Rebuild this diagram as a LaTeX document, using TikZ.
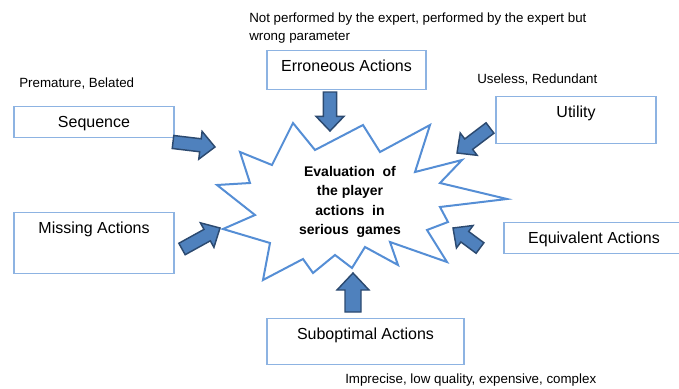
\documentclass[tikz,border=0pt]{standalone}
\usepackage{fontspec}
\setmainfont{Liberation Sans}
\usepackage{xcolor}
\usepackage{tikz}
\usetikzlibrary{calc}

\definecolor{boxblue}{RGB}{141,179,226}
\definecolor{starblue}{RGB}{85,142,213}
\definecolor{arrowfill}{RGB}{79,129,189}
\definecolor{arrowline}{RGB}{44,74,112}

\begin{document}
\begin{tikzpicture}[x=0.75pt,y=-0.75pt,
  catbox/.style={draw=boxblue,line width=0.9pt,inner sep=0pt,anchor=north,
    font=\fontsize{12}{14}\selectfont,text height=15.75pt},
  note/.style={anchor=west,inner sep=0pt,align=left,
    font=\fontsize{10}{13.5}\selectfont},
  starline/.style={draw=starblue,line width=1.5pt,line join=miter,fill=white},
  blockarrow/.style n args={3}{draw=arrowline,fill=arrowfill,line width=1.1pt,
    line join=miter,
    to path={let \p1=(\tikztostart), \p2=(\tikztotarget),
      \n1={atan2(\y2-\y1,\x2-\x1)} in
      -- ($(\p1)+(\n1-90:#1)$)
      -- ($(\p2)+(\n1+180:#3)+(\n1-90:#1)$)
      -- ($(\p2)+(\n1+180:#3)+(\n1-90:#2)$)
      -- (\p2)
      -- ($(\p2)+(\n1+180:#3)+(\n1+90:#2)$)
      -- ($(\p2)+(\n1+180:#3)+(\n1+90:#1)$)
      -- ($(\p1)+(\n1+90:#1)$) -- cycle}}]
%
\useasboundingbox (0,0) rectangle (679,389);
%
\draw[starline] (217,185) -- (250,183) -- (240,152) -- (272,165) -- (293,123)
  -- (315,150) -- (363,125) -- (380,152) -- (430,125) -- (415,172) -- (462,160)
  -- (440,183) -- (507,199) -- (440,207) -- (448,222) -- (427,230) -- (447,262)
  -- (390,242) -- (398,265) -- (365,247) -- (352,268) -- (335,255) -- (313,273)
  -- (303,259) -- (263,280) -- (270,243) -- (223,229) -- (255,215) -- cycle;
\node (eval) at (350,202) [align=center,font=\bfseries\fontsize{10.5}{14.6}\selectfont]
  {Evaluation\ \ of\\the player\\actions\ \ in\\serious\ \ games};
%
\node (seq) at (94,106) [catbox,minimum width=120pt,text depth=7.5pt] {Sequence};
\node (err) at (346.5,50) [catbox,minimum width=119.25pt,text depth=13.5pt] {Erroneous Actions};
\node (util) at (576,96) [catbox,minimum width=120pt,text depth=19.5pt] {Utility};
\node (miss) at (94,212) [catbox,minimum width=120pt,text depth=30pt] {Missing Actions};
\node (equiv) at (594,222) [catbox,minimum width=135pt,text depth=7.5pt] {Equivalent Actions};
\node (subopt) at (365.5,318) [catbox,minimum width=147.75pt,text depth=18.75pt] {Suboptimal Actions};
%
\node (seqnote) at (19,84) [note] {Premature, Belated};
\node (errnote) at (249,28) [note] {Not performed by the expert, performed by the expert but\\wrong parameter};
\node (utilnote) at (477,80) [note] {Useless, Redundant};
\node (subnote) at (345,380) [note] {Imprecise, low quality, expensive, complex};
%
\coordinate (seqtail) at (173,142);
\coordinate (seqtip) at (215,147);
\coordinate (errtail) at (330,92);
\coordinate (errtip) at (330,131);
\coordinate (utiltail) at (490,128);
\coordinate (utiltip) at (457,153);
\coordinate (misstail) at (182,249);
\coordinate (misstip) at (220,228);
\coordinate (equivtail) at (480,248);
\coordinate (equivtip) at (453,228);
\coordinate (suboptail) at (353,312);
\coordinate (suboptip) at (353,273);
%%
\draw[blockarrow={4.9pt}{10.5pt}{11pt}] (seqtail) to (seqtip);
\draw[blockarrow={4.9pt}{10.5pt}{11pt}] (errtail) to (errtip);
\draw[blockarrow={4.9pt}{10.5pt}{11pt}] (utiltail) to (utiltip);
\draw[blockarrow={4.9pt}{10.5pt}{11pt}] (misstail) to (misstip);
\draw[blockarrow={4.9pt}{10.5pt}{11pt}] (equivtail) to (equivtip);
\draw[blockarrow={6pt}{12pt}{12.75pt}] (suboptail) to (suboptip);
\end{tikzpicture}
\end{document}
